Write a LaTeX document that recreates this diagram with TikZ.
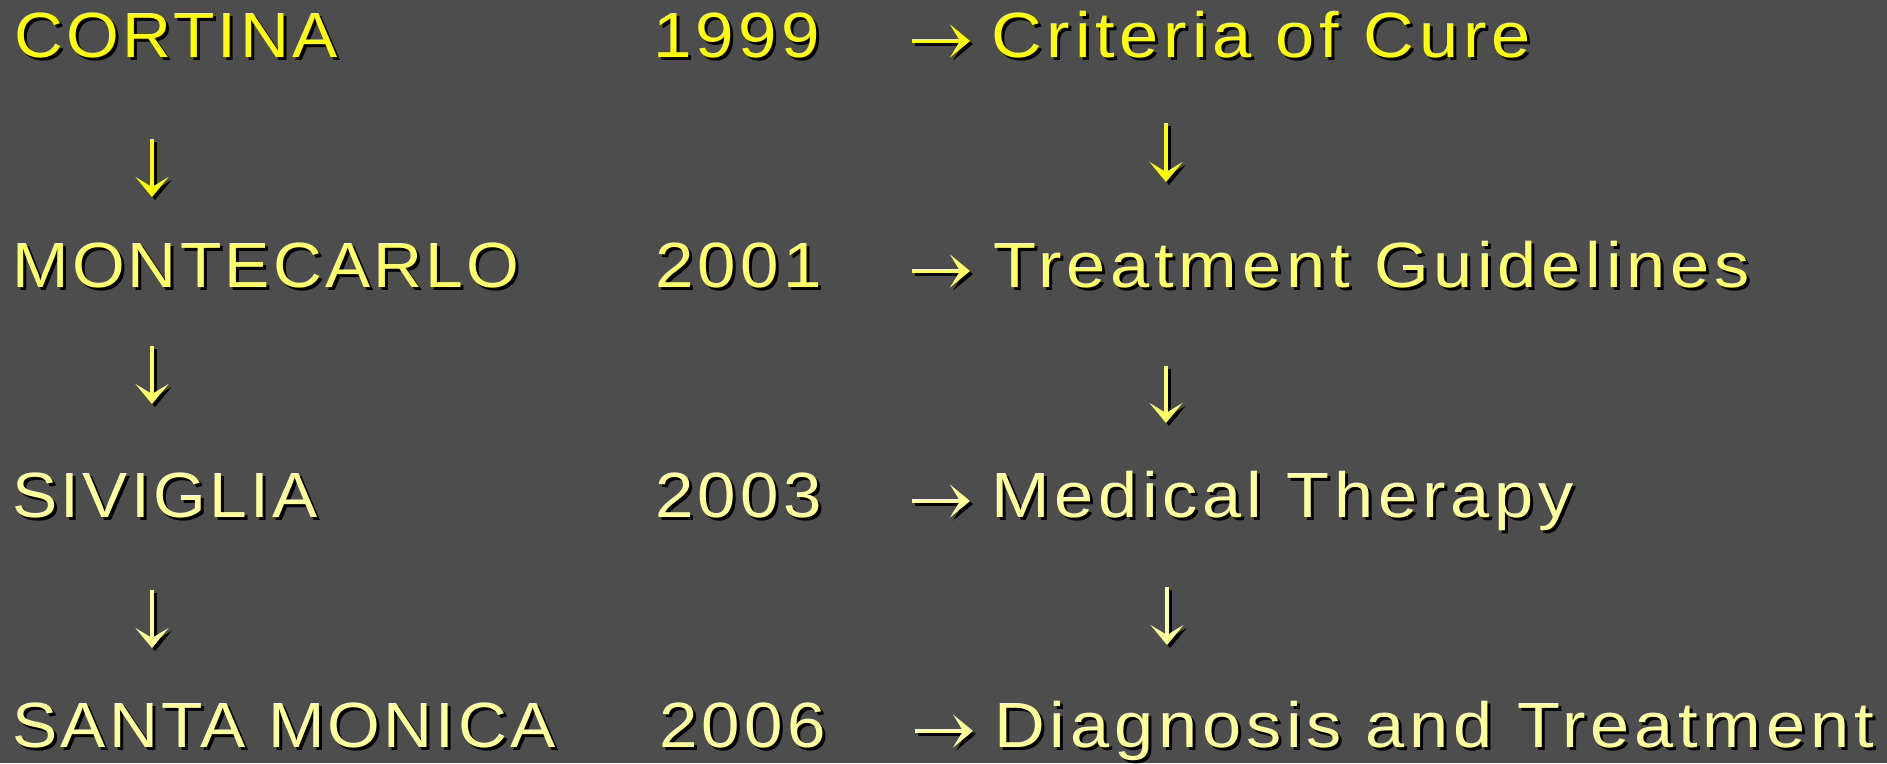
\documentclass[tikz,border=0pt]{standalone}
\usepackage{fontspec}
\setmainfont{Liberation Sans}[FakeStretch=1.06,LetterSpace=5]
\newfontfamily\yearfont{Liberation Sans}[FakeStretch=1.08,LetterSpace=6.5]
\newfontfamily\topicfont{Liberation Sans}[FakeStretch=1.1,LetterSpace=7.5]
\usetikzlibrary{arrows.meta}

\definecolor{slidegray}{HTML}{4D4D4D}
\definecolor{yellowA}{HTML}{FFFF00}
\definecolor{yellowB}{HTML}{FFFF66}
\definecolor{yellowC}{HTML}{FFFF99}

% text with a drop shadow: [style] name, position, colour, text
\newcommand{\slidetext}[5][txt]{%
  \node[#1,shadow,text=black] at (#3) {#5};
  \node[#1,text=#4] (#2) at (#3) {#5};}
% arrow with a drop shadow: from, to, colour
\newcommand{\slidearrow}[3]{%
  \draw[arr,shadow,black] (#1) -- (#2);
  \draw[arr,#3] (#1) -- (#2);}

\begin{document}
\begin{tikzpicture}[
  txt/.style={anchor=base west,inner sep=0pt,font=\fontsize{36.4}{40}\selectfont},
  year/.style={txt,font=\yearfont\fontsize{36.4}{40}\selectfont},
  topic/.style={txt,font=\topicfont\fontsize{36.4}{40}\selectfont},
  arr/.style={line width=2.3pt,-{Stealth[length=4mm,width=6.6mm,inset=2mm]}},
  shadow/.style={transform canvas={shift={(0.6mm,-0.6mm)}}}
]
  % background
  \fill[slidegray] (0,0) rectangle (37.74,-15.26);

  % meetings and years
  \slidetext{cortina}{0.28,-1.14}{yellowA}{CORTINA}
  \slidetext[year]{y1999}{13.06,-1.14}{yellowA}{1999}
  \slidetext{montecarlo}{0.24,-5.74}{yellowB}{MONTECARLO}
  \slidetext[year]{y2001}{13.1,-5.74}{yellowB}{2001}
  \slidetext{siviglia}{0.24,-10.34}{yellowC}{SIVIGLIA}
  \slidetext[year]{y2003}{13.1,-10.34}{yellowC}{2003}
  \slidetext{smonica}{0.24,-14.94}{yellowC}{SANTA MONICA}
  \slidetext[year]{y2006}{13.18,-14.94}{yellowC}{2006}

  % topics
  \slidetext[topic]{cure}{19.82,-1.14}{yellowA}{Criteria of Cure}
  \slidetext[topic]{guide}{19.86,-5.74}{yellowB}{Treatment Guidelines}
  \slidetext[topic]{therapy}{19.82,-10.34}{yellowC}{Medical Therapy}
  \slidetext[topic]{diagnosis}{19.88,-14.94}{yellowC}{Diagnosis and Treatment}

  % arrow ends
  \coordinate (h1) at (18.24,-0.82);  \coordinate (h1t) at (19.4,-0.82);
  \coordinate (h2) at (18.24,-5.42);  \coordinate (h2t) at (19.4,-5.42);
  \coordinate (h3) at (18.24,-10.02); \coordinate (h3t) at (19.4,-10.02);
  \coordinate (h4) at (18.3,-14.62);  \coordinate (h4t) at (19.46,-14.62);
  \coordinate (l1) at (3.04,-2.78);   \coordinate (l1t) at (3.04,-3.94);
  \coordinate (r1) at (23.32,-2.46);  \coordinate (r1t) at (23.32,-3.64);
  \coordinate (l2) at (3.04,-6.92);   \coordinate (l2t) at (3.04,-8.08);
  \coordinate (r2) at (23.32,-7.32);  \coordinate (r2t) at (23.32,-8.46);
  \coordinate (l3) at (3.04,-11.8);   \coordinate (l3t) at (3.04,-12.96);
  \coordinate (r3) at (23.34,-11.74); \coordinate (r3t) at (23.34,-12.9);

  % year -> topic
  \slidearrow{h1}{h1t}{yellowA}
  \slidearrow{h2}{h2t}{yellowB}
  \slidearrow{h3}{h3t}{yellowC}
  \slidearrow{h4}{h4t}{yellowC}

  % from one meeting to the next
  \slidearrow{l1}{l1t}{yellowA}
  \slidearrow{r1}{r1t}{yellowA}
  \slidearrow{l2}{l2t}{yellowB}
  \slidearrow{r2}{r2t}{yellowB}
  \slidearrow{l3}{l3t}{yellowC}
  \slidearrow{r3}{r3t}{yellowC}
\end{tikzpicture}
\end{document}
